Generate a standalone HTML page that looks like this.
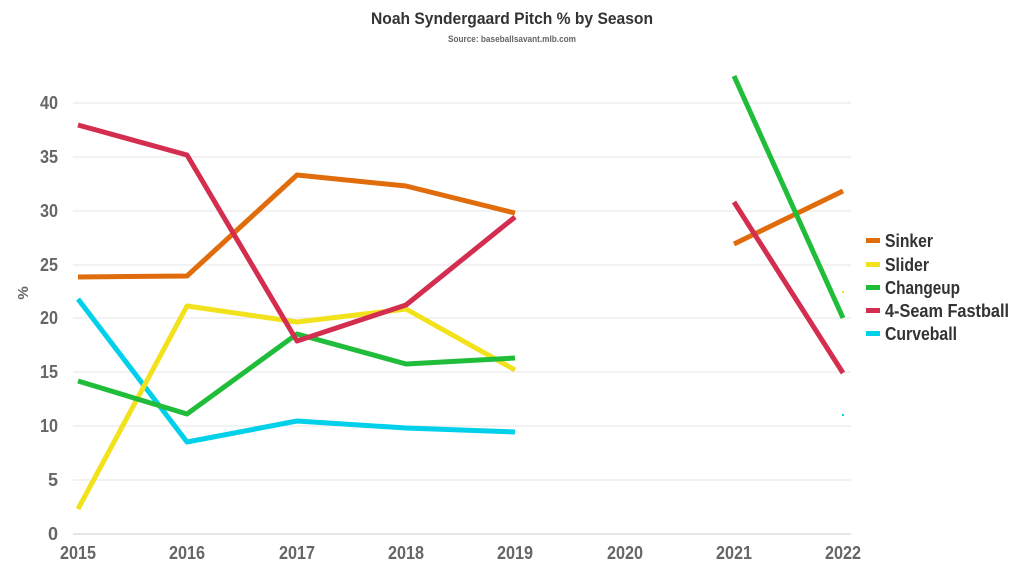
<!DOCTYPE html>
<html><head><style>
html,body{margin:0;padding:0;background:#fff;}
svg{display:block;font-family:"Liberation Sans Narrow","Liberation Sans",sans-serif;}
</style></head><body>
<svg width="1024" height="576" viewBox="0 0 1024 576">
<text x="512" y="24" text-anchor="middle" font-size="17" font-weight="bold" fill="#333" textLength="282" lengthAdjust="spacingAndGlyphs">Noah Syndergaard Pitch % by Season</text>
<text x="512" y="42" text-anchor="middle" font-size="9" font-weight="bold" fill="#666" textLength="128" lengthAdjust="spacingAndGlyphs">Source: baseballsavant.mlb.com</text>
<g stroke="#e6e6e6" stroke-width="1">
<line x1="73" x2="851" y1="103" y2="103"/><line x1="73" x2="851" y1="157" y2="157"/><line x1="73" x2="851" y1="211" y2="211"/><line x1="73" x2="851" y1="265" y2="265"/><line x1="73" x2="851" y1="318" y2="318"/><line x1="73" x2="851" y1="372" y2="372"/><line x1="73" x2="851" y1="426" y2="426"/><line x1="73" x2="851" y1="480" y2="480"/>
</g>
<line x1="73" x2="851" y1="534" y2="534" stroke="#ccc"/>
<g font-size="18" font-weight="bold" fill="#666" text-anchor="end">
<text x="58" y="109" textLength="18" lengthAdjust="spacingAndGlyphs">40</text><text x="58" y="163" textLength="18" lengthAdjust="spacingAndGlyphs">35</text><text x="58" y="217" textLength="18" lengthAdjust="spacingAndGlyphs">30</text><text x="58" y="271" textLength="18" lengthAdjust="spacingAndGlyphs">25</text><text x="58" y="324" textLength="18" lengthAdjust="spacingAndGlyphs">20</text><text x="58" y="378" textLength="18" lengthAdjust="spacingAndGlyphs">15</text><text x="58" y="432" textLength="18" lengthAdjust="spacingAndGlyphs">10</text><text x="58" y="486">5</text><text x="58" y="540">0</text>
</g>
<text x="28" y="293" font-size="15" font-weight="bold" fill="#666" text-anchor="middle" transform="rotate(-90 28 293)">%</text>
<g font-size="18" font-weight="bold" fill="#666" text-anchor="middle">
<text x="78" y="559" textLength="36" lengthAdjust="spacingAndGlyphs">2015</text><text x="187" y="559" textLength="36" lengthAdjust="spacingAndGlyphs">2016</text><text x="297" y="559" textLength="36" lengthAdjust="spacingAndGlyphs">2017</text><text x="406" y="559" textLength="36" lengthAdjust="spacingAndGlyphs">2018</text><text x="515" y="559" textLength="36" lengthAdjust="spacingAndGlyphs">2019</text><text x="625" y="559" textLength="36" lengthAdjust="spacingAndGlyphs">2020</text><text x="734" y="559" textLength="36" lengthAdjust="spacingAndGlyphs">2021</text><text x="843" y="559" textLength="36" lengthAdjust="spacingAndGlyphs">2022</text>
</g>
<g fill="none" stroke-width="5" stroke-linejoin="round" stroke-linecap="butt">
<polyline stroke="#00d0ea" points="78,299 187,442 297,421 406,428 515,432"/>
<polyline stroke="#f2e21c" points="78,509 187,306 297,322 406,309 515,370"/>
<polyline stroke="#20bd3a" points="78,381 187,414 297,334 406,364 515,358"/>
<polyline stroke="#e06c0c" points="78,277 187,276 297,175 406,186 515,213"/>
<polyline stroke="#d32e4f" points="78,125 187,155 297,341 406,305 515,217"/>
<polyline stroke="#e06c0c" points="734,244 843,191"/>
<polyline stroke="#20bd3a" points="734,76 843,318"/>
<polyline stroke="#d32e4f" points="734,202 843,373"/>
</g>
<rect x="842" y="291" width="2" height="2" fill="#f2e21c"/>
<rect x="842" y="414" width="2" height="2" fill="#00d0ea"/>
<g font-size="18" font-weight="bold" fill="#333">
<rect x="866" y="238" width="14" height="5" fill="#e06c0c"/><text x="885" y="247" textLength="48" lengthAdjust="spacingAndGlyphs">Sinker</text>
<rect x="866" y="262" width="14" height="5" fill="#f2e21c"/><text x="885" y="271" textLength="44" lengthAdjust="spacingAndGlyphs">Slider</text>
<rect x="866" y="285" width="14" height="5" fill="#20bd3a"/><text x="885" y="294" textLength="75" lengthAdjust="spacingAndGlyphs">Changeup</text>
<rect x="866" y="308" width="14" height="5" fill="#d32e4f"/><text x="885" y="317" textLength="124" lengthAdjust="spacingAndGlyphs">4-Seam Fastball</text>
<rect x="866" y="331" width="14" height="5" fill="#00d0ea"/><text x="885" y="340" textLength="72" lengthAdjust="spacingAndGlyphs">Curveball</text>
</g>
</svg>
</body></html>
